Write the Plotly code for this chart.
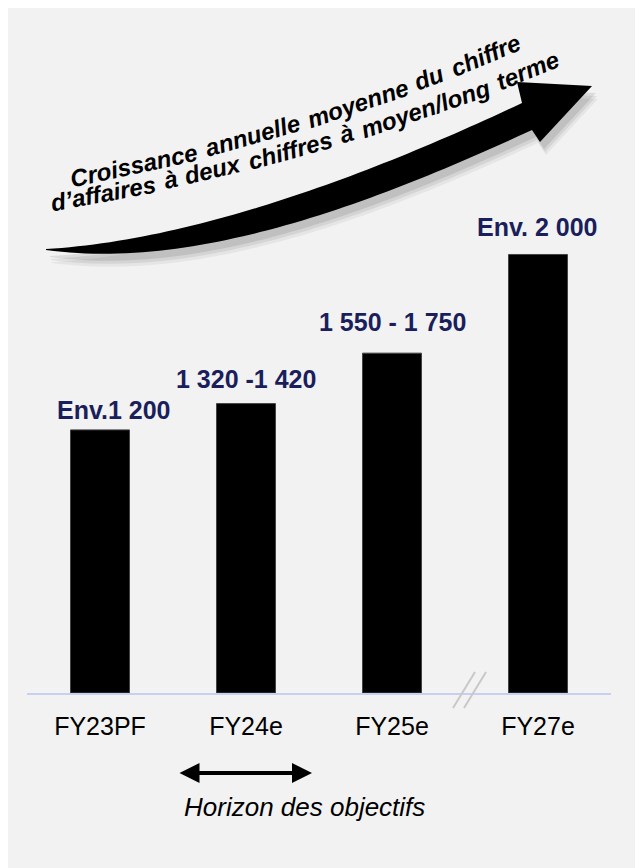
import numpy as np
import plotly.graph_objects as go

# --- data ---------------------------------------------------------------
categories = ["FY23PF", "FY24e", "FY25e", "FY27e"]
revenue_low = [1200, 1320, 1550, 2000]          # bar height = low end of the range
value_labels = ["Env.1 200", "1 320 -1 420", "1 550 - 1 750", "Env. 2 000"]
arrow_line_1 = "Croissance annuelle moyenne du chiffre"
arrow_line_2 = "d’affaires à deux chiffres à moyen/long terme"
horizon_text = "Horizon des objectifs"

# --- layout constants (screen pixels; page body adds an 8px margin) -------
OFF = 8
W, H = 643 - OFF, 868 - OFF
L, R, T, B = 27, 611, 101, 693      # plot area edges on screen
FONT = "Liberation Sans, Arial, sans-serif"
NAVY = "#1a1f5c"


def px(x, y):
    """Screen pixel position -> paper coordinates."""
    return (x - L) / (R - L), (B - y) / (B - T)


def bezier(p0, p1, p2, p3, n=60, t_max=1.0):
    t = np.linspace(0, t_max, n)[:, None]
    p0, p1, p2, p3 = map(np.array, (p0, p1, p2, p3))
    return (1 - t) ** 3 * p0 + 3 * (1 - t) ** 2 * t * p1 + 3 * (1 - t) * t ** 2 * p2 + t ** 3 * p3


def path_from(points, dx=0, dy=0):
    pts = [px(x + dx, y + dy) for x, y in points]
    return "M " + " L ".join(f"{a:.5f},{b:.5f}" for a, b in pts) + " Z"


# rough Arial bold widths (em) for placing words along a curve
WIDTHS = dict(a=.556, b=.611, c=.556, d=.611, e=.556, f=.333, g=.611, h=.611, i=.278,
              j=.278, k=.556, l=.278, m=.889, n=.611, o=.611, p=.611, q=.611, r=.389,
              s=.556, t=.333, u=.611, v=.556, w=.778, x=.556, y=.556, z=.5, C=.722)
WIDTHS.update({"’": .278, "à": .556, "/": .278})


def word_width(word, size):
    return sum(WIDTHS.get(ch, .5) for ch in word) * size


def words_on_curve(text, ctrl, size, spacing=1.3):
    pts = bezier(*ctrl, n=600, t_max=1.2)
    seg = np.hypot(*np.diff(pts, axis=0).T)
    s = np.concatenate([[0], np.cumsum(seg)])
    gap = 0.278 * size * spacing
    out, pos = [], 0.0
    for w in text.split():
        wd = word_width(w, size)
        mid = pos + wd / 2
        i = min(np.searchsorted(s, mid), len(pts) - 2)
        x, y = pts[i]
        dx, dy = pts[i + 1] - pts[i]
        ang = np.degrees(np.arctan2(dy, dx))
        xp, yp = px(x, y)
        out.append(dict(x=xp, y=yp, xref="paper", yref="paper", text=f"<b><i>{w}</i></b>",
                        showarrow=False, textangle=ang, xanchor="center", yanchor="middle",
                        font=dict(family=FONT, size=size, color="black")))
        pos += wd + gap
    return out


fig = go.Figure()
fig.add_trace(go.Bar(
    x=categories, y=revenue_low,
    marker=dict(color="black", line=dict(color="#444444", width=1)),
    hoverinfo="skip",
))

shapes = []

# big curved growth arrow
upper = bezier((46, 249), (200, 240), (380, 170), (522, 103))
lower = bezier((46, 250), (200, 271), (380, 200), (532, 130))
head = [(517, 82), (592, 86), (540, 142)]
outline = list(map(tuple, upper)) + head + list(map(tuple, lower[::-1]))
for dx, dy, a in [(6, 13, 0.05), (5, 10, 0.07), (4, 7, 0.09)]:
    shapes.append(dict(type="path", xref="paper", yref="paper", path=path_from(outline, dx, dy),
                       fillcolor=f"rgba(0,0,0,{a})", line=dict(width=0)))
shapes.append(dict(type="path", xref="paper", yref="paper", path=path_from(outline),
                   fillcolor="black", line=dict(width=0)))

# axis break marks
for off in (0, 11):
    a0 = px(453 + off, 708)
    a1 = px(475 + off, 672)
    shapes.append(dict(type="line", xref="paper", yref="paper", x0=a0[0], y0=a0[1],
                       x1=a1[0], y1=a1[1], line=dict(color="#c8c8c8", width=2)))

annotations = []
# value labels above bars
label_shift = [(14, 20), (0, 25), (0, 31), (-1, 27)]
for cat, val, lab, (xs, ys) in zip(categories, revenue_low, value_labels, label_shift):
    annotations.append(dict(x=cat, y=val, text=lab, showarrow=False, xanchor="center",
                            yanchor="middle", xshift=xs, yshift=ys,
                            font=dict(family=FONT, size=25, color=NAVY, weight="bold")))

# text following the arrow
annotations += words_on_curve(arrow_line_1, [(70, 178), (220, 152), (400, 96), (540, 31)], 24)
annotations += words_on_curve(arrow_line_2, [(50, 202), (210, 178), (410, 122), (560, 57)], 24)

# horizon double arrow + caption
hx, hy = px(312, 773)
annotations.append(dict(x=hx, y=hy, xref="paper", yref="paper", text="", showarrow=True,
                        ax=-134, ay=0, arrowside="end+start", arrowhead=2, arrowsize=1.0,
                        arrowwidth=4, arrowcolor="black", standoff=0, startstandoff=0))
cx, cy = px(304, 807)
annotations.append(dict(x=cx, y=cy, xref="paper", yref="paper", text=f"<i>{horizon_text}</i>",
                        showarrow=False, yanchor="middle",
                        font=dict(family=FONT, size=26, color="black")))

fig.update_layout(
    width=W, height=H,
    margin=dict(l=L - OFF, r=643 - R, t=T - OFF, b=868 - B),
    paper_bgcolor="#f2f2f2", plot_bgcolor="rgba(0,0,0,0)",
    bargap=0.596, showlegend=False,
    shapes=shapes, annotations=annotations,
    xaxis=dict(range=[-0.5, 3.5], showline=True, linecolor="#c8cff0", linewidth=2,
               showgrid=False, zeroline=False, ticks="outside", ticklen=10,
               tickcolor="rgba(0,0,0,0)",
               tickfont=dict(family=FONT, size=25, color="black"), fixedrange=True),
    yaxis=dict(range=[0, 2700], visible=False, fixedrange=True),
)

fig.write_html("out.html")
